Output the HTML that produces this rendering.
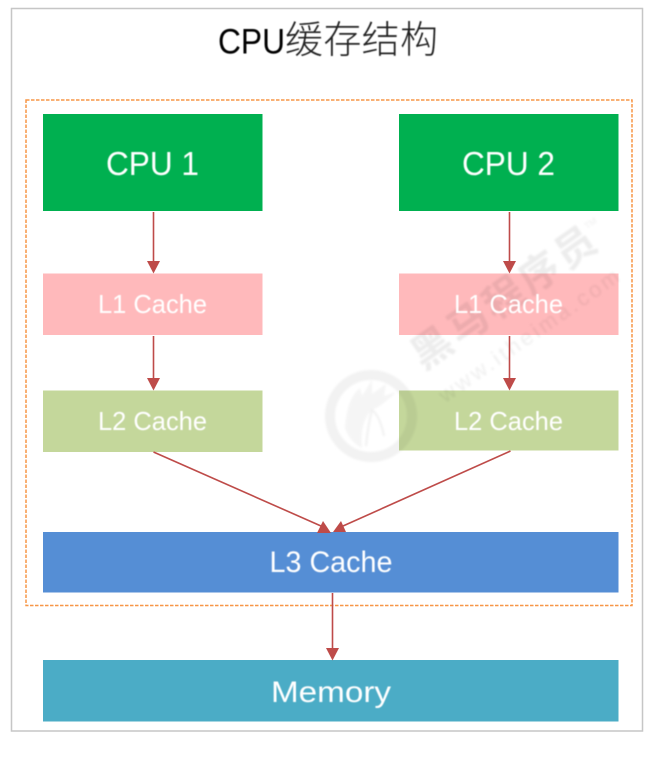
<!DOCTYPE html>
<html>
<head>
<meta charset="utf-8">
<style>
html,body{margin:0;padding:0;background:#fff;width:665px;height:757px;overflow:hidden}
svg{display:block}
text{font-family:"Liberation Sans","Noto Sans CJK SC",sans-serif}
</style>
</head>
<body>
<svg width="665" height="757" viewBox="0 0 665 757" xmlns="http://www.w3.org/2000/svg">
<defs>
<filter id="b" x="-5%" y="-20%" width="110%" height="140%"><feGaussianBlur stdDeviation="0.45"/></filter>
<filter id="l" x="-20%" y="-20%" width="140%" height="140%"><feGaussianBlur stdDeviation="0.3"/></filter>
<filter id="w" x="-10%" y="-10%" width="120%" height="120%"><feGaussianBlur stdDeviation="1"/></filter>
</defs>
<rect width="665" height="757" fill="#fff"/>
<rect x="11.5" y="8.5" width="631" height="722.5" fill="#fff" stroke="#c6c6c6" stroke-width="1.5"/>
<rect x="26" y="100" width="606" height="505.5" fill="none" stroke="#f79646" stroke-width="1.5" stroke-dasharray="3.5 1.5"/>

<g filter="url(#b)">
<text x="218" y="53.5" font-size="35" textLength="67" lengthAdjust="spacingAndGlyphs" fill="#000">CPU</text>
<text x="285" y="53" font-size="38" textLength="153" fill="#222" style="font-family:'Noto Sans CJK SC',sans-serif;font-weight:300">缓存结构</text>
</g>

<rect x="43" y="114" width="219.5" height="97" fill="#00b050"/>
<rect x="399" y="114" width="219.5" height="97" fill="#00b050"/>
<rect x="43" y="273.5" width="219.5" height="61.5" fill="#ffb9bb"/>
<rect x="399" y="273.5" width="219.5" height="61.5" fill="#ffb9bb"/>
<rect x="43" y="390.5" width="219.5" height="61.5" fill="#c4d79b"/>
<rect x="399" y="390.5" width="219.5" height="60" fill="#c4d79b"/>
<rect x="43" y="532" width="575.5" height="60.5" fill="#558ed5"/>
<rect x="43" y="660" width="575.5" height="61.5" fill="#4bacc6"/>

<!-- watermark -->
<g filter="url(#w)" style="mix-blend-mode:multiply">
<circle cx="371" cy="416" r="41" fill="none" stroke="#f2f2f2" stroke-width="10"/>
<path d="M345 428 Q347 398 360 388 L362 396 L372 380 L372 394 L386 384 L384 396 L396 392 Q384 404 376 408 Q370 410 366 418 Q360 430 362 448 Q350 442 345 428 Z" fill="#f5f5f5"/>
<path d="M366 446 Q368 425 372 410 Q380 416 384 436" fill="none" stroke="#f0f0f0" stroke-width="2"/>
<g transform="rotate(-35 415 350)">
<text x="410" y="372" font-size="40" font-weight="bold" fill="#ececec" textLength="215">黑马程序员</text>
<text x="409" y="411" font-size="22" fill="#efefef" textLength="215">www.itheima.com</text>
<text x="625" y="350" font-size="9" fill="#efefef">TM</text>
</g>
</g>

<g fill="#fff" text-anchor="middle" filter="url(#b)">
<text x="152.5" y="175" font-size="33" textLength="93" lengthAdjust="spacingAndGlyphs">CPU 1</text>
<text x="508.5" y="175" font-size="33" textLength="93" lengthAdjust="spacingAndGlyphs">CPU 2</text>
<text x="152.5" y="313" font-size="26" textLength="109" lengthAdjust="spacingAndGlyphs">L1 Cache</text>
<text x="508.5" y="313" font-size="26" textLength="109" lengthAdjust="spacingAndGlyphs">L1 Cache</text>
<text x="152.5" y="430" font-size="26" textLength="109" lengthAdjust="spacingAndGlyphs">L2 Cache</text>
<text x="508.5" y="430" font-size="26" textLength="109" lengthAdjust="spacingAndGlyphs">L2 Cache</text>
<text x="331" y="572" font-size="30" textLength="123" lengthAdjust="spacingAndGlyphs">L3 Cache</text>
<text x="331" y="702" font-size="30" textLength="120" lengthAdjust="spacingAndGlyphs">Memory</text>
</g>

<g filter="url(#l)">
<g stroke="#be4b48" stroke-width="1.6" fill="none">
<line x1="153.5" y1="212" x2="153.5" y2="263"/>
<line x1="509.5" y1="212" x2="509.5" y2="263"/>
<line x1="153.5" y1="336" x2="153.5" y2="380"/>
<line x1="509.5" y1="336" x2="509.5" y2="380"/>
<line x1="153.5" y1="452" x2="321" y2="526"/>
<line x1="510.5" y1="451" x2="343" y2="526"/>
<line x1="332.5" y1="593" x2="332.5" y2="650"/>
</g>
<g fill="#be4b48">
<polygon points="147,261 160,261 153.5,273.5"/>
<polygon points="503,261 516,261 509.5,273.5"/>
<polygon points="147,378 160,378 153.5,390.5"/>
<polygon points="503,378 516,378 509.5,390.5"/>
<polygon points="323,521 331,533 317,533"/>
<polygon points="341,521 346,532 333,532"/>
<polygon points="326,648 339,648 332.5,660.5"/>
</g>
</g>
</svg>
</body>
</html>
